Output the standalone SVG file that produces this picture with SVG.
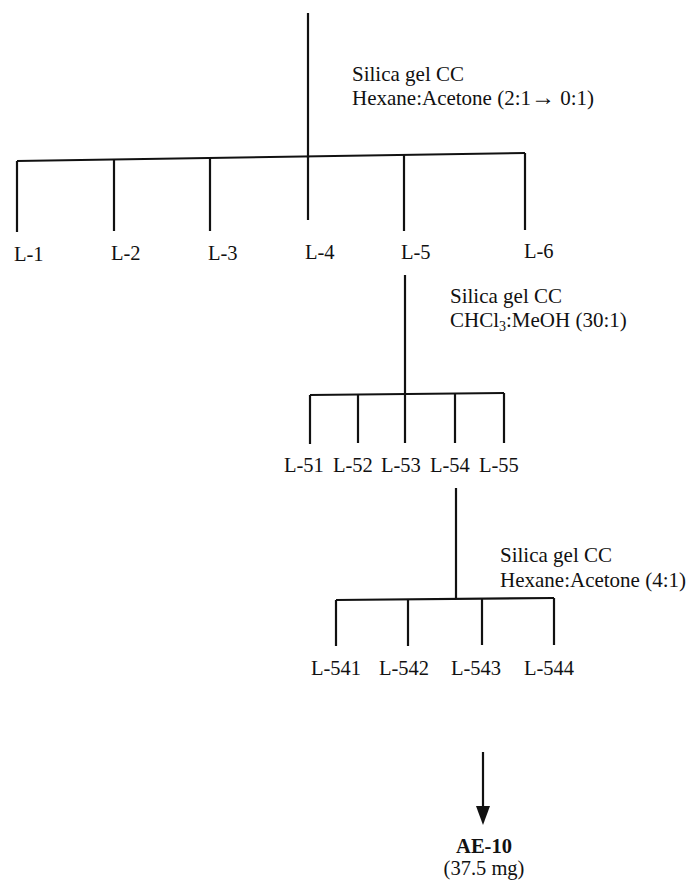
<svg xmlns="http://www.w3.org/2000/svg" width="692" height="883" viewBox="0 0 692 883">
<style>
text{font-family:"Liberation Serif","Times New Roman",serif;font-size:20.5px;fill:#111}
.s{font-size:21px}
.b{font-weight:bold}
.m{text-anchor:middle}
line{stroke:#111;stroke-width:2.2;fill:none}
</style>
<rect width="692" height="883" fill="#fff"/>
<g id="connectors">
<line x1="308" y1="13" x2="308" y2="158"/>
<line x1="17" y1="161" x2="525" y2="153"/>
<line x1="17" y1="161" x2="17" y2="232"/>
<line x1="114" y1="159.5" x2="114" y2="231"/>
<line x1="210" y1="158" x2="210" y2="231"/>
<line x1="308" y1="156" x2="308" y2="220"/>
<line x1="404" y1="155" x2="404" y2="231"/>
<line x1="525" y1="153" x2="525" y2="230"/>
<line x1="405" y1="275" x2="405" y2="394"/>
<line x1="310" y1="395" x2="504" y2="393"/>
<line x1="310" y1="395" x2="310" y2="444"/>
<line x1="358" y1="394.5" x2="358" y2="443"/>
<line x1="405" y1="394" x2="405" y2="443"/>
<line x1="455" y1="393.5" x2="455" y2="443"/>
<line x1="504" y1="393" x2="504" y2="443"/>
<line x1="456" y1="488" x2="456" y2="599"/>
<line x1="336" y1="600" x2="554" y2="598"/>
<line x1="336" y1="600" x2="336" y2="646"/>
<line x1="408" y1="599.5" x2="408" y2="646"/>
<line x1="482" y1="599" x2="482" y2="645"/>
<line x1="554" y1="598" x2="554" y2="645"/>
<line x1="483" y1="752" x2="483" y2="808"/>
<path d="M476,806 L490,806 L483,825 Z" fill="#111"/>
</g>
<g id="step1">
<text class="s" x="352" y="81">Silica gel CC</text>
<text class="s" x="352" y="105">Hexane:Acetone (2:1<tspan font-size="24">→</tspan> 0:1)</text>
</g>
<g id="L-1"><text x="14" y="261">L-1</text></g>
<g id="L-2"><text x="111" y="260">L-2</text></g>
<g id="L-3"><text x="208" y="260">L-3</text></g>
<g id="L-4"><text x="305" y="259">L-4</text></g>
<g id="L-5"><text x="401" y="259">L-5</text></g>
<g id="L-6"><text x="524" y="258">L-6</text></g>
<g id="step2">
<text class="s" x="450" y="303">Silica gel CC</text>
<text class="s" x="450" y="327">CHCl<tspan font-size="14" dy="4">3</tspan><tspan dy="-4">:MeOH (30:1)</tspan></text>
</g>
<g id="L-51"><text x="284" y="472">L-51</text></g>
<g id="L-52"><text x="333" y="472">L-52</text></g>
<g id="L-53"><text x="381" y="472">L-53</text></g>
<g id="L-54"><text x="430" y="472">L-54</text></g>
<g id="L-55"><text x="479" y="472">L-55</text></g>
<g id="step3">
<text class="s" x="500" y="562">Silica gel CC</text>
<text class="s" x="500" y="587">Hexane:Acetone (4:1)</text>
</g>
<g id="L-541"><text x="311" y="675">L-541</text></g>
<g id="L-542"><text x="379" y="675">L-542</text></g>
<g id="L-543"><text x="451" y="675">L-543</text></g>
<g id="L-544"><text x="524" y="675">L-544</text></g>
<g id="AE-10">
<text class="b m" x="484" y="853">AE-10</text>
<text class="m" x="484" y="875">(37.5 mg)</text>
</g>
</svg>
